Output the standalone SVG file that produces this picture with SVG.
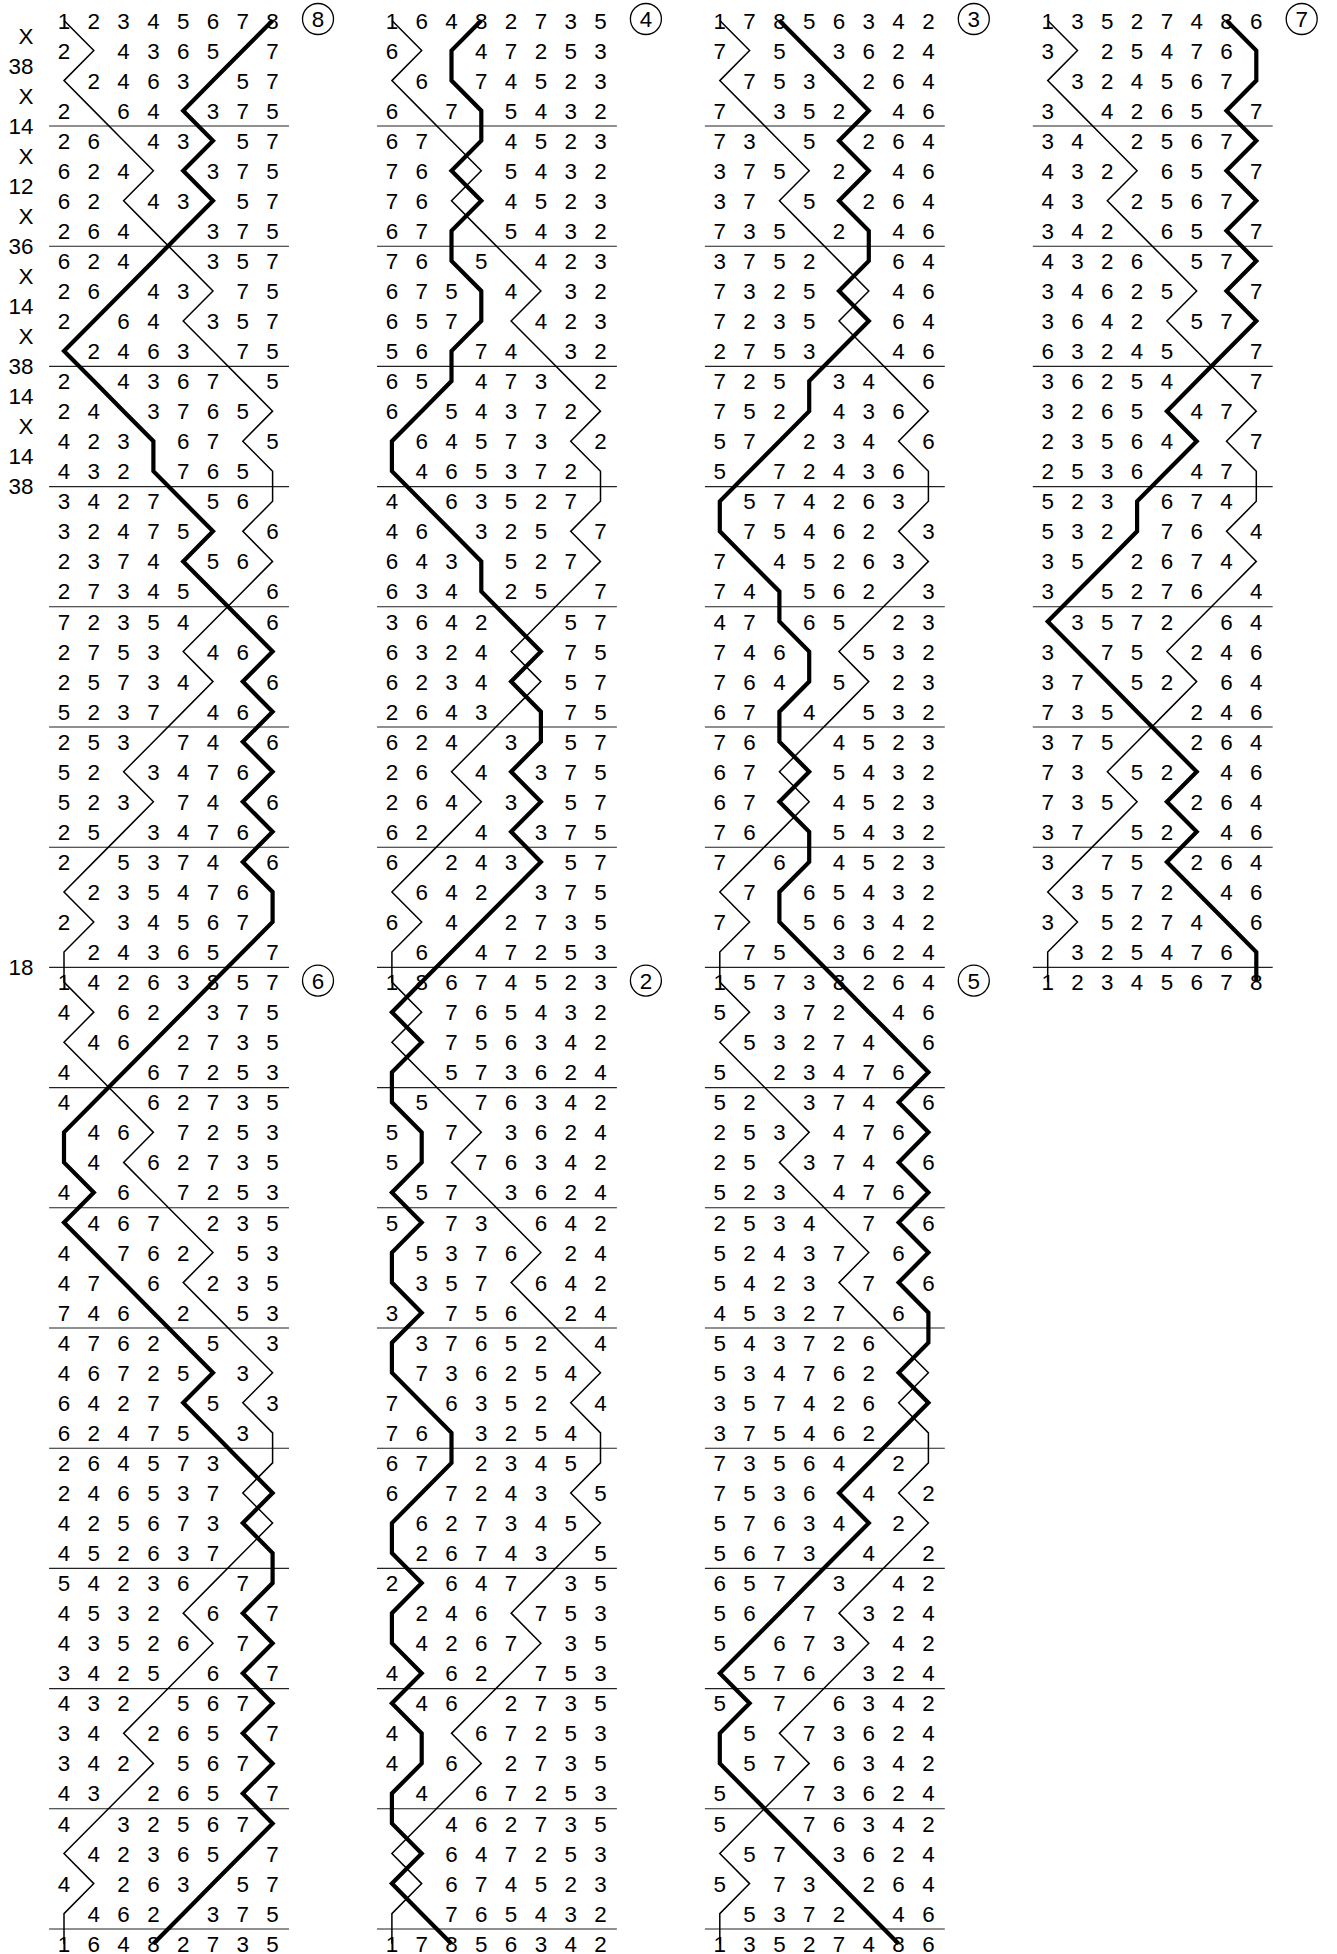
<svg xmlns="http://www.w3.org/2000/svg" width="1337" height="1954" viewBox="0 0 1337 1954" xml:space="preserve">
<style>
text{font-family:"Liberation Sans",Arial,sans-serif;font-size:22.4px;fill:#000}
.r{text-anchor:middle;white-space:pre}
.pn{text-anchor:end}
.c{text-anchor:middle}
.sep{stroke:#222;stroke-width:1.1;fill:none;vector-effect:non-scaling-stroke}
.tr{stroke:#000;stroke-width:1.5;fill:none;vector-effect:non-scaling-stroke}
.bl{stroke:#000;stroke-width:4.2;fill:none;vector-effect:non-scaling-stroke}
circle{fill:none;stroke:#000;stroke-width:1.3}
</style>
<defs>
<polyline id="treble65" class="tr" points="0,0 1,1 0,2 1,3 2,4 3,5 2,6 3,7 4,8 5,9 4,10 5,11 6,12 7,13 6,14 7,15 7,16 6,17 7,18 6,19 5,20 4,21 5,22 4,23 3,24 2,25 3,26 2,27 1,28 0,29 1,30 0,31 0,32 1,33 0,34 1,35 2,36 3,37 2,38 3,39 4,40 5,41 4,42 5,43 6,44 7,45 6,46 7,47 7,48 6,49 7,50 6,51 5,52 4,53 5,54 4,55 3,56 2,57 3,58 2,59 1,60 0,61 1,62 0,63 0,64"/>
<polyline id="treble33" class="tr" points="0,0 1,1 0,2 1,3 2,4 3,5 2,6 3,7 4,8 5,9 4,10 5,11 6,12 7,13 6,14 7,15 7,16 6,17 7,18 6,19 5,20 4,21 5,22 4,23 3,24 2,25 3,26 2,27 1,28 0,29 1,30 0,31 0,32"/>
<path id="seps16" class="sep" d="M-0.5 3.51H7.55M-0.5 7.51H7.55M-0.5 11.51H7.55M-0.5 15.51H7.55M-0.5 19.51H7.55M-0.5 23.51H7.55M-0.5 27.51H7.55M-0.5 31.51H7.55M-0.5 35.51H7.55M-0.5 39.51H7.55M-0.5 43.51H7.55M-0.5 47.51H7.55M-0.5 51.51H7.55M-0.5 55.51H7.55M-0.5 59.51H7.55M-0.5 63.51H7.55"/>
<path id="seps8" class="sep" d="M-0.5 3.51H7.55M-0.5 7.51H7.55M-0.5 11.51H7.55M-0.5 15.51H7.55M-0.5 19.51H7.55M-0.5 23.51H7.55M-0.5 27.51H7.55M-0.5 31.51H7.55"/>
</defs>
<g id="place-notation">
<text class="pn" x="33.5" y="43.5">X</text>
<text class="pn" x="33.5" y="73.6">38</text>
<text class="pn" x="33.5" y="103.6">X</text>
<text class="pn" x="33.5" y="133.7">14</text>
<text class="pn" x="33.5" y="163.7">X</text>
<text class="pn" x="33.5" y="193.8">12</text>
<text class="pn" x="33.5" y="223.8">X</text>
<text class="pn" x="33.5" y="253.9">36</text>
<text class="pn" x="33.5" y="283.9">X</text>
<text class="pn" x="33.5" y="314">14</text>
<text class="pn" x="33.5" y="344">X</text>
<text class="pn" x="33.5" y="374.1">38</text>
<text class="pn" x="33.5" y="404.1">14</text>
<text class="pn" x="33.5" y="434.2">X</text>
<text class="pn" x="33.5" y="464.2">14</text>
<text class="pn" x="33.5" y="494.3">38</text>
<text class="pn" x="33.5" y="975.1">18</text>
</g>
<g id="lead-1" transform="translate(64,0)">
<circle cx="254" cy="19" r="15.5"/><text class="c" x="254" y="27">8</text>
<text class="r" x="0 29.8 59.6 89.4 119.2 149 178.8 208.6" y="28.5">12345678</text>
<text class="r" x="0 29.8 59.6 89.4 119.2 149 178.8 208.6" y="58.55">2 4365 7</text>
<text class="r" x="0 29.8 59.6 89.4 119.2 149 178.8 208.6" y="88.6"> 2463 57</text>
<text class="r" x="0 29.8 59.6 89.4 119.2 149 178.8 208.6" y="118.65">2 64 375</text>
<text class="r" x="0 29.8 59.6 89.4 119.2 149 178.8 208.6" y="148.7">26 43 57</text>
<text class="r" x="0 29.8 59.6 89.4 119.2 149 178.8 208.6" y="178.75">624  375</text>
<text class="r" x="0 29.8 59.6 89.4 119.2 149 178.8 208.6" y="208.8">62 43 57</text>
<text class="r" x="0 29.8 59.6 89.4 119.2 149 178.8 208.6" y="238.85">264  375</text>
<text class="r" x="0 29.8 59.6 89.4 119.2 149 178.8 208.6" y="268.9">624  357</text>
<text class="r" x="0 29.8 59.6 89.4 119.2 149 178.8 208.6" y="298.95">26 43 75</text>
<text class="r" x="0 29.8 59.6 89.4 119.2 149 178.8 208.6" y="329">2 64 357</text>
<text class="r" x="0 29.8 59.6 89.4 119.2 149 178.8 208.6" y="359.05"> 2463 75</text>
<text class="r" x="0 29.8 59.6 89.4 119.2 149 178.8 208.6" y="389.1">2 4367 5</text>
<text class="r" x="0 29.8 59.6 89.4 119.2 149 178.8 208.6" y="419.15">24 3765 </text>
<text class="r" x="0 29.8 59.6 89.4 119.2 149 178.8 208.6" y="449.2">423 67 5</text>
<text class="r" x="0 29.8 59.6 89.4 119.2 149 178.8 208.6" y="479.25">432 765 </text>
<text class="r" x="0 29.8 59.6 89.4 119.2 149 178.8 208.6" y="509.3">3427 56 </text>
<text class="r" x="0 29.8 59.6 89.4 119.2 149 178.8 208.6" y="539.35">32475  6</text>
<text class="r" x="0 29.8 59.6 89.4 119.2 149 178.8 208.6" y="569.4">2374 56 </text>
<text class="r" x="0 29.8 59.6 89.4 119.2 149 178.8 208.6" y="599.45">27345  6</text>
<text class="r" x="0 29.8 59.6 89.4 119.2 149 178.8 208.6" y="629.5">72354  6</text>
<text class="r" x="0 29.8 59.6 89.4 119.2 149 178.8 208.6" y="659.55">2753 46 </text>
<text class="r" x="0 29.8 59.6 89.4 119.2 149 178.8 208.6" y="689.6">25734  6</text>
<text class="r" x="0 29.8 59.6 89.4 119.2 149 178.8 208.6" y="719.65">5237 46 </text>
<text class="r" x="0 29.8 59.6 89.4 119.2 149 178.8 208.6" y="749.7">253 74 6</text>
<text class="r" x="0 29.8 59.6 89.4 119.2 149 178.8 208.6" y="779.75">52 3476 </text>
<text class="r" x="0 29.8 59.6 89.4 119.2 149 178.8 208.6" y="809.8">523 74 6</text>
<text class="r" x="0 29.8 59.6 89.4 119.2 149 178.8 208.6" y="839.85">25 3476 </text>
<text class="r" x="0 29.8 59.6 89.4 119.2 149 178.8 208.6" y="869.9">2 5374 6</text>
<text class="r" x="0 29.8 59.6 89.4 119.2 149 178.8 208.6" y="899.95"> 235476 </text>
<text class="r" x="0 29.8 59.6 89.4 119.2 149 178.8 208.6" y="930">2 34567 </text>
<text class="r" x="0 29.8 59.6 89.4 119.2 149 178.8 208.6" y="960.05"> 24365 7</text>
</g>
<g id="lead-2" transform="translate(64,0)">
<circle cx="254" cy="980.6" r="15.5"/><text class="c" x="254" y="988.6">6</text>
<text class="r" x="0 29.8 59.6 89.4 119.2 149 178.8 208.6" y="990.1">14263857</text>
<text class="r" x="0 29.8 59.6 89.4 119.2 149 178.8 208.6" y="1020.15">4 62 375</text>
<text class="r" x="0 29.8 59.6 89.4 119.2 149 178.8 208.6" y="1050.2"> 46 2735</text>
<text class="r" x="0 29.8 59.6 89.4 119.2 149 178.8 208.6" y="1080.25">4  67253</text>
<text class="r" x="0 29.8 59.6 89.4 119.2 149 178.8 208.6" y="1110.3">4  62735</text>
<text class="r" x="0 29.8 59.6 89.4 119.2 149 178.8 208.6" y="1140.35"> 46 7253</text>
<text class="r" x="0 29.8 59.6 89.4 119.2 149 178.8 208.6" y="1170.4"> 4 62735</text>
<text class="r" x="0 29.8 59.6 89.4 119.2 149 178.8 208.6" y="1200.45">4 6 7253</text>
<text class="r" x="0 29.8 59.6 89.4 119.2 149 178.8 208.6" y="1230.5"> 467 235</text>
<text class="r" x="0 29.8 59.6 89.4 119.2 149 178.8 208.6" y="1260.55">4 762 53</text>
<text class="r" x="0 29.8 59.6 89.4 119.2 149 178.8 208.6" y="1290.6">47 6 235</text>
<text class="r" x="0 29.8 59.6 89.4 119.2 149 178.8 208.6" y="1320.65">746 2 53</text>
<text class="r" x="0 29.8 59.6 89.4 119.2 149 178.8 208.6" y="1350.7">4762 5 3</text>
<text class="r" x="0 29.8 59.6 89.4 119.2 149 178.8 208.6" y="1380.75">46725 3 </text>
<text class="r" x="0 29.8 59.6 89.4 119.2 149 178.8 208.6" y="1410.8">6427 5 3</text>
<text class="r" x="0 29.8 59.6 89.4 119.2 149 178.8 208.6" y="1440.85">62475 3 </text>
<text class="r" x="0 29.8 59.6 89.4 119.2 149 178.8 208.6" y="1470.9">264573  </text>
<text class="r" x="0 29.8 59.6 89.4 119.2 149 178.8 208.6" y="1500.95">246537  </text>
<text class="r" x="0 29.8 59.6 89.4 119.2 149 178.8 208.6" y="1531">425673  </text>
<text class="r" x="0 29.8 59.6 89.4 119.2 149 178.8 208.6" y="1561.05">452637  </text>
<text class="r" x="0 29.8 59.6 89.4 119.2 149 178.8 208.6" y="1591.1">54236 7 </text>
<text class="r" x="0 29.8 59.6 89.4 119.2 149 178.8 208.6" y="1621.15">4532 6 7</text>
<text class="r" x="0 29.8 59.6 89.4 119.2 149 178.8 208.6" y="1651.2">43526 7 </text>
<text class="r" x="0 29.8 59.6 89.4 119.2 149 178.8 208.6" y="1681.25">3425 6 7</text>
<text class="r" x="0 29.8 59.6 89.4 119.2 149 178.8 208.6" y="1711.3">432 567 </text>
<text class="r" x="0 29.8 59.6 89.4 119.2 149 178.8 208.6" y="1741.35">34 265 7</text>
<text class="r" x="0 29.8 59.6 89.4 119.2 149 178.8 208.6" y="1771.4">342 567 </text>
<text class="r" x="0 29.8 59.6 89.4 119.2 149 178.8 208.6" y="1801.45">43 265 7</text>
<text class="r" x="0 29.8 59.6 89.4 119.2 149 178.8 208.6" y="1831.5">4 32567 </text>
<text class="r" x="0 29.8 59.6 89.4 119.2 149 178.8 208.6" y="1861.55"> 42365 7</text>
<text class="r" x="0 29.8 59.6 89.4 119.2 149 178.8 208.6" y="1891.6">4 263 57</text>
<text class="r" x="0 29.8 59.6 89.4 119.2 149 178.8 208.6" y="1921.65"> 462 375</text>
<text class="r" x="0 29.8 59.6 89.4 119.2 149 178.8 208.6" y="1951.7">16482735</text>
</g>
<g id="lead-3" transform="translate(391.9,0)">
<circle cx="254" cy="19" r="15.5"/><text class="c" x="254" y="27">4</text>
<text class="r" x="0 29.8 59.6 89.4 119.2 149 178.8 208.6" y="28.5">16482735</text>
<text class="r" x="0 29.8 59.6 89.4 119.2 149 178.8 208.6" y="58.55">6  47253</text>
<text class="r" x="0 29.8 59.6 89.4 119.2 149 178.8 208.6" y="88.6"> 6 74523</text>
<text class="r" x="0 29.8 59.6 89.4 119.2 149 178.8 208.6" y="118.65">6 7 5432</text>
<text class="r" x="0 29.8 59.6 89.4 119.2 149 178.8 208.6" y="148.7">67  4523</text>
<text class="r" x="0 29.8 59.6 89.4 119.2 149 178.8 208.6" y="178.75">76  5432</text>
<text class="r" x="0 29.8 59.6 89.4 119.2 149 178.8 208.6" y="208.8">76  4523</text>
<text class="r" x="0 29.8 59.6 89.4 119.2 149 178.8 208.6" y="238.85">67  5432</text>
<text class="r" x="0 29.8 59.6 89.4 119.2 149 178.8 208.6" y="268.9">76 5 423</text>
<text class="r" x="0 29.8 59.6 89.4 119.2 149 178.8 208.6" y="298.95">675 4 32</text>
<text class="r" x="0 29.8 59.6 89.4 119.2 149 178.8 208.6" y="329">657  423</text>
<text class="r" x="0 29.8 59.6 89.4 119.2 149 178.8 208.6" y="359.05">56 74 32</text>
<text class="r" x="0 29.8 59.6 89.4 119.2 149 178.8 208.6" y="389.1">65 473 2</text>
<text class="r" x="0 29.8 59.6 89.4 119.2 149 178.8 208.6" y="419.15">6 54372 </text>
<text class="r" x="0 29.8 59.6 89.4 119.2 149 178.8 208.6" y="449.2"> 64573 2</text>
<text class="r" x="0 29.8 59.6 89.4 119.2 149 178.8 208.6" y="479.25"> 465372 </text>
<text class="r" x="0 29.8 59.6 89.4 119.2 149 178.8 208.6" y="509.3">4 63527 </text>
<text class="r" x="0 29.8 59.6 89.4 119.2 149 178.8 208.6" y="539.35">46 325 7</text>
<text class="r" x="0 29.8 59.6 89.4 119.2 149 178.8 208.6" y="569.4">643 527 </text>
<text class="r" x="0 29.8 59.6 89.4 119.2 149 178.8 208.6" y="599.45">634 25 7</text>
<text class="r" x="0 29.8 59.6 89.4 119.2 149 178.8 208.6" y="629.5">3642  57</text>
<text class="r" x="0 29.8 59.6 89.4 119.2 149 178.8 208.6" y="659.55">6324  75</text>
<text class="r" x="0 29.8 59.6 89.4 119.2 149 178.8 208.6" y="689.6">6234  57</text>
<text class="r" x="0 29.8 59.6 89.4 119.2 149 178.8 208.6" y="719.65">2643  75</text>
<text class="r" x="0 29.8 59.6 89.4 119.2 149 178.8 208.6" y="749.7">624 3 57</text>
<text class="r" x="0 29.8 59.6 89.4 119.2 149 178.8 208.6" y="779.75">26 4 375</text>
<text class="r" x="0 29.8 59.6 89.4 119.2 149 178.8 208.6" y="809.8">264 3 57</text>
<text class="r" x="0 29.8 59.6 89.4 119.2 149 178.8 208.6" y="839.85">62 4 375</text>
<text class="r" x="0 29.8 59.6 89.4 119.2 149 178.8 208.6" y="869.9">6 243 57</text>
<text class="r" x="0 29.8 59.6 89.4 119.2 149 178.8 208.6" y="899.95"> 642 375</text>
<text class="r" x="0 29.8 59.6 89.4 119.2 149 178.8 208.6" y="930">6 4 2735</text>
<text class="r" x="0 29.8 59.6 89.4 119.2 149 178.8 208.6" y="960.05"> 6 47253</text>
</g>
<g id="lead-4" transform="translate(391.9,0)">
<circle cx="254" cy="980.6" r="15.5"/><text class="c" x="254" y="988.6">2</text>
<text class="r" x="0 29.8 59.6 89.4 119.2 149 178.8 208.6" y="990.1">18674523</text>
<text class="r" x="0 29.8 59.6 89.4 119.2 149 178.8 208.6" y="1020.15">  765432</text>
<text class="r" x="0 29.8 59.6 89.4 119.2 149 178.8 208.6" y="1050.2">  756342</text>
<text class="r" x="0 29.8 59.6 89.4 119.2 149 178.8 208.6" y="1080.25">  573624</text>
<text class="r" x="0 29.8 59.6 89.4 119.2 149 178.8 208.6" y="1110.3"> 5 76342</text>
<text class="r" x="0 29.8 59.6 89.4 119.2 149 178.8 208.6" y="1140.35">5 7 3624</text>
<text class="r" x="0 29.8 59.6 89.4 119.2 149 178.8 208.6" y="1170.4">5  76342</text>
<text class="r" x="0 29.8 59.6 89.4 119.2 149 178.8 208.6" y="1200.45"> 57 3624</text>
<text class="r" x="0 29.8 59.6 89.4 119.2 149 178.8 208.6" y="1230.5">5 73 642</text>
<text class="r" x="0 29.8 59.6 89.4 119.2 149 178.8 208.6" y="1260.55"> 5376 24</text>
<text class="r" x="0 29.8 59.6 89.4 119.2 149 178.8 208.6" y="1290.6"> 357 642</text>
<text class="r" x="0 29.8 59.6 89.4 119.2 149 178.8 208.6" y="1320.65">3 756 24</text>
<text class="r" x="0 29.8 59.6 89.4 119.2 149 178.8 208.6" y="1350.7"> 37652 4</text>
<text class="r" x="0 29.8 59.6 89.4 119.2 149 178.8 208.6" y="1380.75"> 736254 </text>
<text class="r" x="0 29.8 59.6 89.4 119.2 149 178.8 208.6" y="1410.8">7 6352 4</text>
<text class="r" x="0 29.8 59.6 89.4 119.2 149 178.8 208.6" y="1440.85">76 3254 </text>
<text class="r" x="0 29.8 59.6 89.4 119.2 149 178.8 208.6" y="1470.9">67 2345 </text>
<text class="r" x="0 29.8 59.6 89.4 119.2 149 178.8 208.6" y="1500.95">6 7243 5</text>
<text class="r" x="0 29.8 59.6 89.4 119.2 149 178.8 208.6" y="1531"> 627345 </text>
<text class="r" x="0 29.8 59.6 89.4 119.2 149 178.8 208.6" y="1561.05"> 26743 5</text>
<text class="r" x="0 29.8 59.6 89.4 119.2 149 178.8 208.6" y="1591.1">2 647 35</text>
<text class="r" x="0 29.8 59.6 89.4 119.2 149 178.8 208.6" y="1621.15"> 246 753</text>
<text class="r" x="0 29.8 59.6 89.4 119.2 149 178.8 208.6" y="1651.2"> 4267 35</text>
<text class="r" x="0 29.8 59.6 89.4 119.2 149 178.8 208.6" y="1681.25">4 62 753</text>
<text class="r" x="0 29.8 59.6 89.4 119.2 149 178.8 208.6" y="1711.3"> 46 2735</text>
<text class="r" x="0 29.8 59.6 89.4 119.2 149 178.8 208.6" y="1741.35">4  67253</text>
<text class="r" x="0 29.8 59.6 89.4 119.2 149 178.8 208.6" y="1771.4">4 6 2735</text>
<text class="r" x="0 29.8 59.6 89.4 119.2 149 178.8 208.6" y="1801.45"> 4 67253</text>
<text class="r" x="0 29.8 59.6 89.4 119.2 149 178.8 208.6" y="1831.5">  462735</text>
<text class="r" x="0 29.8 59.6 89.4 119.2 149 178.8 208.6" y="1861.55">  647253</text>
<text class="r" x="0 29.8 59.6 89.4 119.2 149 178.8 208.6" y="1891.6">  674523</text>
<text class="r" x="0 29.8 59.6 89.4 119.2 149 178.8 208.6" y="1921.65">  765432</text>
<text class="r" x="0 29.8 59.6 89.4 119.2 149 178.8 208.6" y="1951.7">17856342</text>
</g>
<g id="lead-5" transform="translate(719.8,0)">
<circle cx="254" cy="19" r="15.5"/><text class="c" x="254" y="27">3</text>
<text class="r" x="0 29.8 59.6 89.4 119.2 149 178.8 208.6" y="28.5">17856342</text>
<text class="r" x="0 29.8 59.6 89.4 119.2 149 178.8 208.6" y="58.55">7 5 3624</text>
<text class="r" x="0 29.8 59.6 89.4 119.2 149 178.8 208.6" y="88.6"> 753 264</text>
<text class="r" x="0 29.8 59.6 89.4 119.2 149 178.8 208.6" y="118.65">7 352 46</text>
<text class="r" x="0 29.8 59.6 89.4 119.2 149 178.8 208.6" y="148.7">73 5 264</text>
<text class="r" x="0 29.8 59.6 89.4 119.2 149 178.8 208.6" y="178.75">375 2 46</text>
<text class="r" x="0 29.8 59.6 89.4 119.2 149 178.8 208.6" y="208.8">37 5 264</text>
<text class="r" x="0 29.8 59.6 89.4 119.2 149 178.8 208.6" y="238.85">735 2 46</text>
<text class="r" x="0 29.8 59.6 89.4 119.2 149 178.8 208.6" y="268.9">3752  64</text>
<text class="r" x="0 29.8 59.6 89.4 119.2 149 178.8 208.6" y="298.95">7325  46</text>
<text class="r" x="0 29.8 59.6 89.4 119.2 149 178.8 208.6" y="329">7235  64</text>
<text class="r" x="0 29.8 59.6 89.4 119.2 149 178.8 208.6" y="359.05">2753  46</text>
<text class="r" x="0 29.8 59.6 89.4 119.2 149 178.8 208.6" y="389.1">725 34 6</text>
<text class="r" x="0 29.8 59.6 89.4 119.2 149 178.8 208.6" y="419.15">752 436 </text>
<text class="r" x="0 29.8 59.6 89.4 119.2 149 178.8 208.6" y="449.2">57 234 6</text>
<text class="r" x="0 29.8 59.6 89.4 119.2 149 178.8 208.6" y="479.25">5 72436 </text>
<text class="r" x="0 29.8 59.6 89.4 119.2 149 178.8 208.6" y="509.3"> 574263 </text>
<text class="r" x="0 29.8 59.6 89.4 119.2 149 178.8 208.6" y="539.35"> 75462 3</text>
<text class="r" x="0 29.8 59.6 89.4 119.2 149 178.8 208.6" y="569.4">7 45263 </text>
<text class="r" x="0 29.8 59.6 89.4 119.2 149 178.8 208.6" y="599.45">74 562 3</text>
<text class="r" x="0 29.8 59.6 89.4 119.2 149 178.8 208.6" y="629.5">47 65 23</text>
<text class="r" x="0 29.8 59.6 89.4 119.2 149 178.8 208.6" y="659.55">746  532</text>
<text class="r" x="0 29.8 59.6 89.4 119.2 149 178.8 208.6" y="689.6">764 5 23</text>
<text class="r" x="0 29.8 59.6 89.4 119.2 149 178.8 208.6" y="719.65">67 4 532</text>
<text class="r" x="0 29.8 59.6 89.4 119.2 149 178.8 208.6" y="749.7">76  4523</text>
<text class="r" x="0 29.8 59.6 89.4 119.2 149 178.8 208.6" y="779.75">67  5432</text>
<text class="r" x="0 29.8 59.6 89.4 119.2 149 178.8 208.6" y="809.8">67  4523</text>
<text class="r" x="0 29.8 59.6 89.4 119.2 149 178.8 208.6" y="839.85">76  5432</text>
<text class="r" x="0 29.8 59.6 89.4 119.2 149 178.8 208.6" y="869.9">7 6 4523</text>
<text class="r" x="0 29.8 59.6 89.4 119.2 149 178.8 208.6" y="899.95"> 7 65432</text>
<text class="r" x="0 29.8 59.6 89.4 119.2 149 178.8 208.6" y="930">7  56342</text>
<text class="r" x="0 29.8 59.6 89.4 119.2 149 178.8 208.6" y="960.05"> 75 3624</text>
</g>
<g id="lead-6" transform="translate(719.8,0)">
<circle cx="254" cy="980.6" r="15.5"/><text class="c" x="254" y="988.6">5</text>
<text class="r" x="0 29.8 59.6 89.4 119.2 149 178.8 208.6" y="990.1">15738264</text>
<text class="r" x="0 29.8 59.6 89.4 119.2 149 178.8 208.6" y="1020.15">5 372 46</text>
<text class="r" x="0 29.8 59.6 89.4 119.2 149 178.8 208.6" y="1050.2"> 53274 6</text>
<text class="r" x="0 29.8 59.6 89.4 119.2 149 178.8 208.6" y="1080.25">5 23476 </text>
<text class="r" x="0 29.8 59.6 89.4 119.2 149 178.8 208.6" y="1110.3">52 374 6</text>
<text class="r" x="0 29.8 59.6 89.4 119.2 149 178.8 208.6" y="1140.35">253 476 </text>
<text class="r" x="0 29.8 59.6 89.4 119.2 149 178.8 208.6" y="1170.4">25 374 6</text>
<text class="r" x="0 29.8 59.6 89.4 119.2 149 178.8 208.6" y="1200.45">523 476 </text>
<text class="r" x="0 29.8 59.6 89.4 119.2 149 178.8 208.6" y="1230.5">2534 7 6</text>
<text class="r" x="0 29.8 59.6 89.4 119.2 149 178.8 208.6" y="1260.55">52437 6 </text>
<text class="r" x="0 29.8 59.6 89.4 119.2 149 178.8 208.6" y="1290.6">5423 7 6</text>
<text class="r" x="0 29.8 59.6 89.4 119.2 149 178.8 208.6" y="1320.65">45327 6 </text>
<text class="r" x="0 29.8 59.6 89.4 119.2 149 178.8 208.6" y="1350.7">543726  </text>
<text class="r" x="0 29.8 59.6 89.4 119.2 149 178.8 208.6" y="1380.75">534762  </text>
<text class="r" x="0 29.8 59.6 89.4 119.2 149 178.8 208.6" y="1410.8">357426  </text>
<text class="r" x="0 29.8 59.6 89.4 119.2 149 178.8 208.6" y="1440.85">375462  </text>
<text class="r" x="0 29.8 59.6 89.4 119.2 149 178.8 208.6" y="1470.9">73564 2 </text>
<text class="r" x="0 29.8 59.6 89.4 119.2 149 178.8 208.6" y="1500.95">7536 4 2</text>
<text class="r" x="0 29.8 59.6 89.4 119.2 149 178.8 208.6" y="1531">57634 2 </text>
<text class="r" x="0 29.8 59.6 89.4 119.2 149 178.8 208.6" y="1561.05">5673 4 2</text>
<text class="r" x="0 29.8 59.6 89.4 119.2 149 178.8 208.6" y="1591.1">657 3 42</text>
<text class="r" x="0 29.8 59.6 89.4 119.2 149 178.8 208.6" y="1621.15">56 7 324</text>
<text class="r" x="0 29.8 59.6 89.4 119.2 149 178.8 208.6" y="1651.2">5 673 42</text>
<text class="r" x="0 29.8 59.6 89.4 119.2 149 178.8 208.6" y="1681.25"> 576 324</text>
<text class="r" x="0 29.8 59.6 89.4 119.2 149 178.8 208.6" y="1711.3">5 7 6342</text>
<text class="r" x="0 29.8 59.6 89.4 119.2 149 178.8 208.6" y="1741.35"> 5 73624</text>
<text class="r" x="0 29.8 59.6 89.4 119.2 149 178.8 208.6" y="1771.4"> 57 6342</text>
<text class="r" x="0 29.8 59.6 89.4 119.2 149 178.8 208.6" y="1801.45">5  73624</text>
<text class="r" x="0 29.8 59.6 89.4 119.2 149 178.8 208.6" y="1831.5">5  76342</text>
<text class="r" x="0 29.8 59.6 89.4 119.2 149 178.8 208.6" y="1861.55"> 57 3624</text>
<text class="r" x="0 29.8 59.6 89.4 119.2 149 178.8 208.6" y="1891.6">5 73 264</text>
<text class="r" x="0 29.8 59.6 89.4 119.2 149 178.8 208.6" y="1921.65"> 5372 46</text>
<text class="r" x="0 29.8 59.6 89.4 119.2 149 178.8 208.6" y="1951.7">13527486</text>
</g>
<g id="lead-7" transform="translate(1047.7,0)">
<circle cx="254" cy="19" r="15.5"/><text class="c" x="254" y="27">7</text>
<text class="r" x="0 29.8 59.6 89.4 119.2 149 178.8 208.6" y="28.5">13527486</text>
<text class="r" x="0 29.8 59.6 89.4 119.2 149 178.8 208.6" y="58.55">3 25476 </text>
<text class="r" x="0 29.8 59.6 89.4 119.2 149 178.8 208.6" y="88.6"> 324567 </text>
<text class="r" x="0 29.8 59.6 89.4 119.2 149 178.8 208.6" y="118.65">3 4265 7</text>
<text class="r" x="0 29.8 59.6 89.4 119.2 149 178.8 208.6" y="148.7">34 2567 </text>
<text class="r" x="0 29.8 59.6 89.4 119.2 149 178.8 208.6" y="178.75">432 65 7</text>
<text class="r" x="0 29.8 59.6 89.4 119.2 149 178.8 208.6" y="208.8">43 2567 </text>
<text class="r" x="0 29.8 59.6 89.4 119.2 149 178.8 208.6" y="238.85">342 65 7</text>
<text class="r" x="0 29.8 59.6 89.4 119.2 149 178.8 208.6" y="268.9">4326 57 </text>
<text class="r" x="0 29.8 59.6 89.4 119.2 149 178.8 208.6" y="298.95">34625  7</text>
<text class="r" x="0 29.8 59.6 89.4 119.2 149 178.8 208.6" y="329">3642 57 </text>
<text class="r" x="0 29.8 59.6 89.4 119.2 149 178.8 208.6" y="359.05">63245  7</text>
<text class="r" x="0 29.8 59.6 89.4 119.2 149 178.8 208.6" y="389.1">36254  7</text>
<text class="r" x="0 29.8 59.6 89.4 119.2 149 178.8 208.6" y="419.15">3265 47 </text>
<text class="r" x="0 29.8 59.6 89.4 119.2 149 178.8 208.6" y="449.2">23564  7</text>
<text class="r" x="0 29.8 59.6 89.4 119.2 149 178.8 208.6" y="479.25">2536 47 </text>
<text class="r" x="0 29.8 59.6 89.4 119.2 149 178.8 208.6" y="509.3">523 674 </text>
<text class="r" x="0 29.8 59.6 89.4 119.2 149 178.8 208.6" y="539.35">532 76 4</text>
<text class="r" x="0 29.8 59.6 89.4 119.2 149 178.8 208.6" y="569.4">35 2674 </text>
<text class="r" x="0 29.8 59.6 89.4 119.2 149 178.8 208.6" y="599.45">3 5276 4</text>
<text class="r" x="0 29.8 59.6 89.4 119.2 149 178.8 208.6" y="629.5"> 3572 64</text>
<text class="r" x="0 29.8 59.6 89.4 119.2 149 178.8 208.6" y="659.55">3 75 246</text>
<text class="r" x="0 29.8 59.6 89.4 119.2 149 178.8 208.6" y="689.6">37 52 64</text>
<text class="r" x="0 29.8 59.6 89.4 119.2 149 178.8 208.6" y="719.65">735  246</text>
<text class="r" x="0 29.8 59.6 89.4 119.2 149 178.8 208.6" y="749.7">375  264</text>
<text class="r" x="0 29.8 59.6 89.4 119.2 149 178.8 208.6" y="779.75">73 52 46</text>
<text class="r" x="0 29.8 59.6 89.4 119.2 149 178.8 208.6" y="809.8">735  264</text>
<text class="r" x="0 29.8 59.6 89.4 119.2 149 178.8 208.6" y="839.85">37 52 46</text>
<text class="r" x="0 29.8 59.6 89.4 119.2 149 178.8 208.6" y="869.9">3 75 264</text>
<text class="r" x="0 29.8 59.6 89.4 119.2 149 178.8 208.6" y="899.95"> 3572 46</text>
<text class="r" x="0 29.8 59.6 89.4 119.2 149 178.8 208.6" y="930">3 5274 6</text>
<text class="r" x="0 29.8 59.6 89.4 119.2 149 178.8 208.6" y="960.05"> 325476 </text>
<text class="r" x="0 29.8 59.6 89.4 119.2 149 178.8 208.6" y="990.1">12345678</text>
</g>
<g id="connectors">
<g transform="translate(64,20.5) scale(29.8,30.05)">
<use href="#seps16"/>
<use href="#treble65"/>
<polyline class="bl" points="7,0 6,1 5,2 4,3 5,4 4,5 5,6 4,7 3,8 2,9 1,10 0,11 1,12 2,13 3,14 3,15 4,16 5,17 4,18 5,19 6,20 7,21 6,22 7,23 6,24 7,25 6,26 7,27 6,28 7,29 7,30 6,31 5,32 4,33 3,34 2,35 1,36 0,37 0,38 1,39 0,40 1,41 2,42 3,43 4,44 5,45 4,46 5,47 6,48 7,49 6,50 7,51 7,52 6,53 7,54 6,55 7,56 6,57 7,58 6,59 7,60 6,61 5,62 4,63 3,64"/>
</g>
<g transform="translate(391.9,20.5) scale(29.8,30.05)">
<use href="#seps16"/>
<use href="#treble65"/>
<polyline class="bl" points="3,0 2,1 2,2 3,3 3,4 2,5 3,6 2,7 2,8 3,9 3,10 2,11 2,12 1,13 0,14 0,15 1,16 2,17 3,18 3,19 4,20 5,21 4,22 5,23 5,24 4,25 5,26 4,27 5,28 4,29 3,30 2,31 1,32 0,33 1,34 0,35 0,36 1,37 1,38 0,39 1,40 0,41 0,42 1,43 0,44 0,45 1,46 2,47 2,48 1,49 0,50 0,51 1,52 0,53 0,54 1,55 0,56 1,57 1,58 0,59 0,60 1,61 0,62 1,63 2,64"/>
</g>
<g transform="translate(719.8,20.5) scale(29.8,30.05)">
<use href="#seps16"/>
<use href="#treble65"/>
<polyline class="bl" points="2,0 3,1 4,2 5,3 4,4 5,5 4,6 5,7 5,8 4,9 5,10 4,11 3,12 3,13 2,14 1,15 0,16 0,17 1,18 2,19 2,20 3,21 3,22 2,23 2,24 3,25 2,26 3,27 3,28 2,29 2,30 3,31 4,32 5,33 6,34 7,35 6,36 7,37 6,38 7,39 6,40 7,41 6,42 7,43 7,44 6,45 7,46 6,47 5,48 4,49 5,50 4,51 3,52 2,53 1,54 0,55 1,56 0,57 0,58 1,59 2,60 3,61 4,62 5,63 6,64"/>
</g>
<g transform="translate(1047.7,20.5) scale(29.8,30.05)">
<use href="#seps8"/>
<use href="#treble33"/>
<polyline class="bl" points="6,0 7,1 7,2 6,3 7,4 6,5 7,6 6,7 7,8 6,9 7,10 6,11 5,12 4,13 5,14 4,15 3,16 3,17 2,18 1,19 0,20 1,21 2,22 3,23 4,24 5,25 4,26 5,27 4,28 5,29 6,30 7,31 7,32"/>
</g>
</g>
</svg>
